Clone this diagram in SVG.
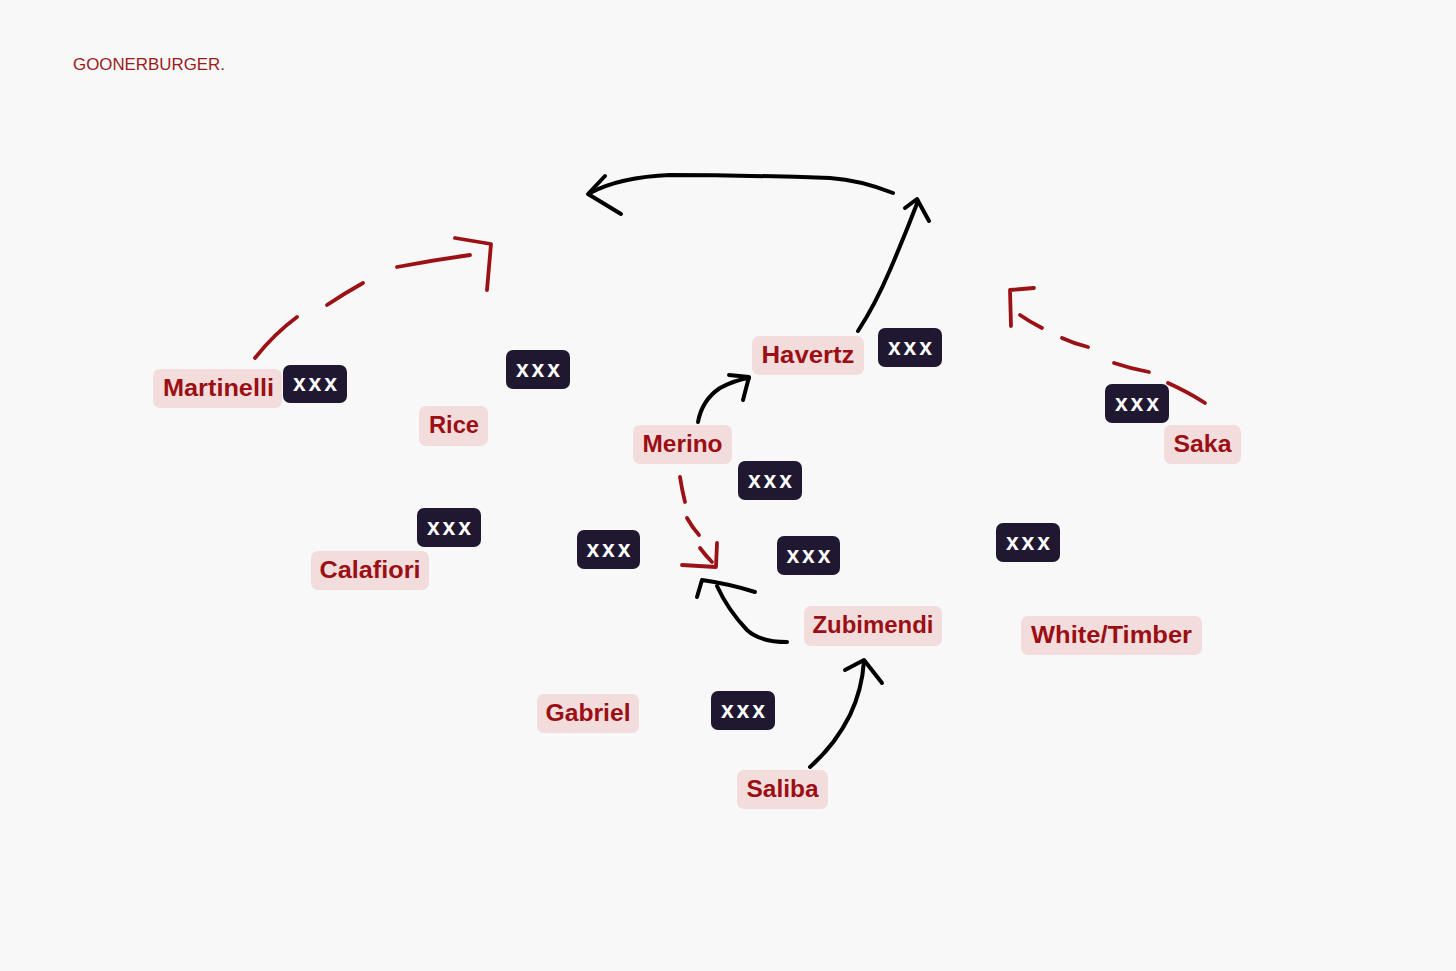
<svg xmlns="http://www.w3.org/2000/svg" width="1456" height="971" viewBox="0 0 1456 971">
<style>
.lbl rect{fill:#f2dcdc}
.lbl text{font-family:"Liberation Sans",Arial,sans-serif;font-weight:bold;font-size:23px;fill:#9b0f14;text-anchor:middle}
.tag rect{fill:#1f1830}
.tag text{font-family:"Liberation Sans",Arial,sans-serif;font-weight:bold;font-size:23px;fill:#ffffff;text-anchor:middle}
.blk{fill:none;stroke:#000;stroke-width:4;stroke-linecap:round;stroke-linejoin:round}
.red{fill:none;stroke:#9b1116;stroke-width:3.8;stroke-linecap:round;stroke-linejoin:round}
</style>
<rect width="1456" height="971" fill="#f8f8f9"/>
<text x="73" y="70" font-family="Liberation Sans,Arial,sans-serif" font-size="16.5" fill="#9b1b1b" textLength="152" lengthAdjust="spacingAndGlyphs">GOONERBURGER.</text>

<g id="connectors">
  <g id="c-martinelli" class="red">
    <path d="M255,358 Q274,334 297,317"/>
    <path d="M327,305 Q345,293 363,283"/>
    <path d="M397,267 Q433,260 470,255"/>
    <path d="M455,238 L491,244 L487,290"/>
  </g>
  <g id="c-top" class="blk">
    <path d="M893,193 Q860,180 830,178 Q740,175 670,175 Q620,177 590,193"/>
    <path d="M605,176 L588,194 L621,214"/>
  </g>
  <g id="c-havertz" class="blk">
    <path d="M858,331 Q875,305 890,270 Q905,235 918,201"/>
    <path d="M905,208 L917,199 L929,221"/>
  </g>
  <g id="c-merino-havertz" class="blk">
    <path d="M698,422 Q702,400 720,388 Q735,380 749,378"/>
    <path d="M729,375 L749,377 L743,400"/>
  </g>
  <g id="c-saka" class="red">
    <path d="M1020,315 Q1030,322 1042,328"/>
    <path d="M1062,338 Q1075,344 1088,347"/>
    <path d="M1114,363 Q1132,369 1149,372"/>
    <path d="M1168,383 Q1188,392 1205,403"/>
    <path d="M1034,288 L1010,290 L1011,326"/>
  </g>
  <g id="c-merino-down" class="red">
    <path d="M680,477 Q682,490 685,502"/>
    <path d="M687,518 Q692,527 699,535"/>
    <path d="M700,548 Q706,556 712,562"/>
    <path d="M717,543 L716,567 L682,565"/>
  </g>
  <g id="c-zubimendi" class="blk">
    <path d="M787,642 Q760,642 747,630 Q728,610 717,586"/>
    <path d="M697,597 L702,580 Q730,584 755,592"/>
  </g>
  <g id="c-saliba" class="blk">
    <path d="M810,767 Q835,745 850,715 Q862,690 864,661"/>
    <path d="M845,670 L864,660 L882,683"/>
  </g>
</g>

<g id="n-martinelli" class="lbl"><rect x="153" y="369" width="129" height="39" rx="7"/><text x="218.5" y="396" textLength="111" lengthAdjust="spacingAndGlyphs">Martinelli</text></g>
<g id="n-rice" class="lbl"><rect x="419" y="406" width="69" height="40" rx="7"/><text x="454" y="433" textLength="50" lengthAdjust="spacingAndGlyphs">Rice</text></g>
<g id="n-havertz" class="lbl"><rect x="752" y="336" width="112" height="39" rx="7"/><text x="808" y="363" textLength="93" lengthAdjust="spacingAndGlyphs">Havertz</text></g>
<g id="n-merino" class="lbl"><rect x="633" y="425" width="99" height="39" rx="7"/><text x="682.5" y="452" textLength="80" lengthAdjust="spacingAndGlyphs">Merino</text></g>
<g id="n-saka" class="lbl"><rect x="1164" y="425" width="77" height="39" rx="7"/><text x="1202.5" y="452" textLength="58" lengthAdjust="spacingAndGlyphs">Saka</text></g>
<g id="n-calafiori" class="lbl"><rect x="311" y="551" width="118" height="39" rx="7"/><text x="370" y="578" textLength="101" lengthAdjust="spacingAndGlyphs">Calafiori</text></g>
<g id="n-zubimendi" class="lbl"><rect x="804" y="606" width="138" height="40" rx="7"/><text x="873" y="633" textLength="121" lengthAdjust="spacingAndGlyphs">Zubimendi</text></g>
<g id="n-whitetimber" class="lbl"><rect x="1021" y="616" width="181" height="39" rx="7"/><text x="1111.5" y="643" textLength="161" lengthAdjust="spacingAndGlyphs">White/Timber</text></g>
<g id="n-gabriel" class="lbl"><rect x="537" y="694" width="102" height="39" rx="7"/><text x="588" y="721" textLength="85" lengthAdjust="spacingAndGlyphs">Gabriel</text></g>
<g id="n-saliba" class="lbl"><rect x="737" y="770" width="91" height="39" rx="7"/><text x="782.5" y="797" textLength="72" lengthAdjust="spacingAndGlyphs">Saliba</text></g>

<g id="t1" class="tag"><rect x="283" y="365" width="64" height="38" rx="7"/><text x="315" y="391" textLength="44" lengthAdjust="spacing">xxx</text></g>
<g id="t2" class="tag"><rect x="506" y="350" width="64" height="39" rx="7"/><text x="538" y="376.5" textLength="44" lengthAdjust="spacing">xxx</text></g>
<g id="t3" class="tag"><rect x="878" y="328" width="64" height="39" rx="7"/><text x="910" y="354.5" textLength="44" lengthAdjust="spacing">xxx</text></g>
<g id="t4" class="tag"><rect x="738" y="461" width="64" height="39" rx="7"/><text x="770" y="487.5" textLength="44" lengthAdjust="spacing">xxx</text></g>
<g id="t5" class="tag"><rect x="1105" y="384" width="64" height="39" rx="7"/><text x="1137" y="410.5" textLength="44" lengthAdjust="spacing">xxx</text></g>
<g id="t6" class="tag"><rect x="417" y="508" width="64" height="39" rx="7"/><text x="449" y="534.5" textLength="44" lengthAdjust="spacing">xxx</text></g>
<g id="t7" class="tag"><rect x="577" y="530" width="63" height="39" rx="7"/><text x="608.5" y="556.5" textLength="44" lengthAdjust="spacing">xxx</text></g>
<g id="t8" class="tag"><rect x="777" y="536" width="63" height="39" rx="7"/><text x="808.5" y="562.5" textLength="44" lengthAdjust="spacing">xxx</text></g>
<g id="t9" class="tag"><rect x="996" y="523" width="64" height="39" rx="7"/><text x="1028" y="549.5" textLength="44" lengthAdjust="spacing">xxx</text></g>
<g id="t10" class="tag"><rect x="711" y="691" width="64" height="39" rx="7"/><text x="743" y="717.5" textLength="44" lengthAdjust="spacing">xxx</text></g>
</svg>
